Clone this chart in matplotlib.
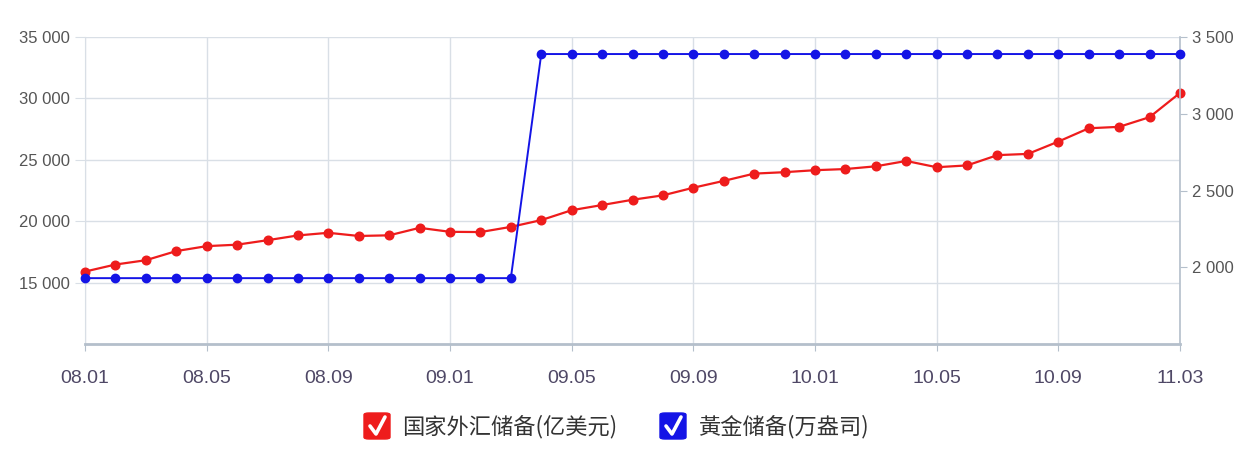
import matplotlib.pyplot as plt
from matplotlib.patches import FancyBboxPatch
from matplotlib.lines import Line2D
from matplotlib.ticker import FuncFormatter

plt.rcParams['font.family'] = ['Liberation Sans', 'DejaVu Sans']

# Mois (08.01 -> 10.12, puis 11.03)
months = [
    "08.01", "08.02", "08.03", "08.04", "08.05", "08.06", "08.07", "08.08",
    "08.09", "08.10", "08.11", "08.12", "09.01", "09.02", "09.03", "09.04",
    "09.05", "09.06", "09.07", "09.08", "09.09", "09.10", "09.11", "09.12",
    "10.01", "10.02", "10.03", "10.04", "10.05", "10.06", "10.07", "10.08",
    "10.09", "10.10", "10.11", "10.12", "11.03",
]

# Réserves de change (亿美元)
forex = [
    15898, 16471, 16822, 17566, 17969, 18088, 18452, 18841,
    19056, 18797, 18850, 19460, 19135, 19116, 19537, 20089,
    20895, 21316, 21746, 22104, 22726, 23283, 23875, 23992,
    24153, 24247, 24471, 24905, 24395, 24543, 25381, 25480,
    26483, 27568, 27684, 28473, 30447,
]

# Réserves d'or
gold = [1929] * 15 + [3389] * 22

xtick_labels = months[::4]
left_ticks = [15000, 20000, 25000, 30000, 35000]
right_ticks = [2000, 2500, 3000, 3500]

RED = "#ee1c1c"
BLUE = "#1414e6"
GRID = "#d9dfe6"
AXIS = "#b4bfcb"

fig = plt.figure(figsize=(12.48, 4.5), dpi=100)
ax = fig.add_axes([85 / 1248, 1 - 344 / 450, 1095 / 1248, 307 / 450])
ax2 = ax.twinx()

x = list(range(len(months)))

ax.plot(x, forex, color=RED, lw=1.6, marker="o", ms=6.2, mec=RED, mfc=RED,
        zorder=3, clip_on=False)
ax2.plot(x, gold, color=BLUE, lw=1.4, marker="o", ms=6.0, mec=BLUE, mfc=BLUE,
         zorder=3, clip_on=False)

ax.set_xlim(0, len(months) - 1)
ax.set_ylim(10000, 35000)
ax2.set_ylim(1500, 3500)

fmt = FuncFormatter(lambda v, p: f"{int(v):,}".replace(",", " "))

ax.set_xticks(x[::4])
ax.set_xticklabels(xtick_labels)
ax.set_yticks(left_ticks)
ax.yaxis.set_major_formatter(fmt)
ax2.set_yticks(right_ticks)
ax2.yaxis.set_major_formatter(fmt)

ax.grid(True, color=GRID, lw=1.0, zorder=0)
ax.set_axisbelow(True)

for a in (ax, ax2):
    for s in a.spines.values():
        s.set_visible(False)
ax.spines["bottom"].set_visible(True)
ax.spines["bottom"].set_color(AXIS)
ax.spines["bottom"].set_linewidth(2)
ax.spines["left"].set_visible(True)
ax.spines["left"].set_color(GRID)
ax2.spines["right"].set_visible(True)
ax2.spines["right"].set_color(AXIS)
ax2.spines["right"].set_linewidth(1.2)

ax.tick_params(axis="x", length=5, color=AXIS, pad=14, labelsize=14, labelcolor="#4f4866")
ax.tick_params(axis="y", length=7, color=GRID, pad=4, labelsize=12, labelcolor="#555555")
ax2.tick_params(axis="y", length=5, color=AXIS, pad=4, labelsize=12, labelcolor="#555555")

# Légende façon cases cochées
def check_box(x0, y0, color, label):
    w, h = 26 / 1248, 26 / 450
    box = FancyBboxPatch((x0 / 1248, 1 - y0 / 450 - h), w, h,
                         boxstyle="round,pad=0,rounding_size=0.004",
                         transform=fig.transFigure, fc=color, ec=color)
    fig.patches.append(box)
    cx, cy = x0 / 1248, 1 - y0 / 450
    tick = Line2D([cx + 6 / 1248, cx + 12 / 1248, cx + 21 / 1248],
                  [cy - 13 / 450, cy - 21 / 450, cy - 4 / 450],
                  transform=fig.transFigure, color="white", lw=2.6,
                  solid_capstyle="round", solid_joinstyle="round")
    fig.lines.append(tick)
    fig.text((x0 + 38) / 1248, 1 - (y0 + 14) / 450, label, fontsize=16,
             color="#333333", va="center", ha="left",
             family=["Noto Sans CJK SC", "DejaVu Sans"])

check_box(364, 413, RED, "国家外汇储备(亿美元)")
check_box(660, 413, BLUE, "黃金储备(万盎司)")

fig.savefig("out.png", dpi=100)
